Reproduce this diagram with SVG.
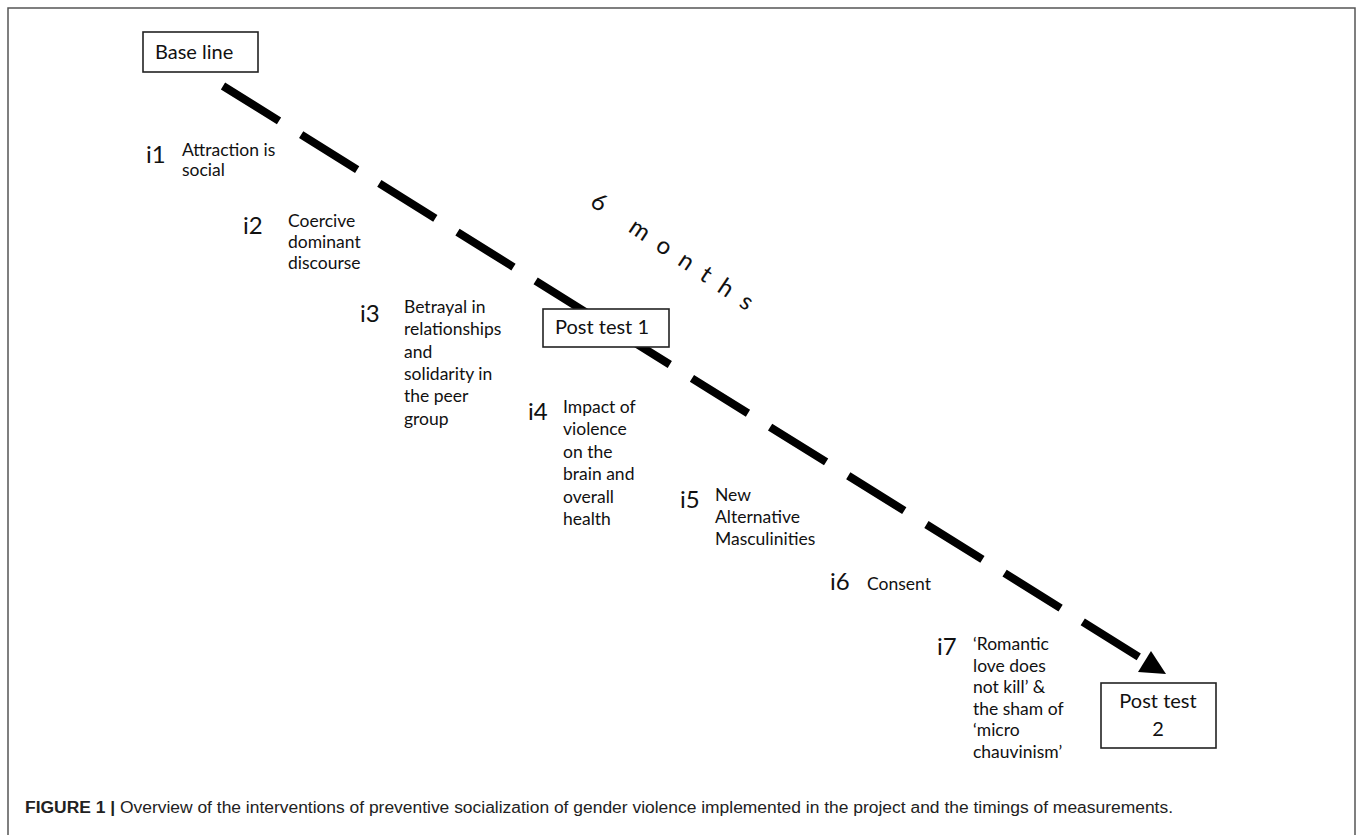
<svg xmlns="http://www.w3.org/2000/svg" width="1357" height="835" viewBox="0 0 1357 835">
<style>
.frame{fill:none;stroke:#555;stroke-width:1.5}
.box{fill:#fff;stroke:#222;stroke-width:1.6}
.bt{font-family:Lato,"Open Sans",sans-serif;font-size:20px;fill:#111}
.num{font-family:Lato,"Open Sans",sans-serif;font-size:24px;fill:#111}
.lab{font-family:Lato,"Open Sans",sans-serif;font-size:17.5px;fill:#111}
.dash{fill:none;stroke:#000;stroke-width:8;stroke-dasharray:66 26.1;stroke-linecap:butt}
.months{font-family:Lato,"Open Sans",sans-serif;font-size:24px;fill:#111;letter-spacing:13px}
.cap{font-family:"Liberation Sans",Arial,sans-serif;font-size:16px;fill:#222}
</style>
<rect width="1357" height="835" fill="#fff"/>
<rect class="frame" x="8" y="8" width="1347" height="900"/>
<g id="connectors">
<path class="dash" d="M223,86 L1139,657"/>
<polygon points="1151,651 1138,672 1166,674" fill="#000"/>
</g>
<g id="node-baseline">
<rect class="box" x="143" y="32" width="115" height="40"/>
<text class="bt" x="155" y="59">Base line</text>
</g>
<g id="node-posttest1">
<rect class="box" x="543" y="309" width="126" height="38"/>
<text class="bt" x="555" y="334">Post test 1</text>
</g>
<g id="node-posttest2">
<rect class="box" x="1101" y="683" width="115" height="65"/>
<text class="bt" x="1158" y="708" text-anchor="middle">Post test</text>
<text class="bt" x="1158" y="736" text-anchor="middle">2</text>
</g>
<g id="months">
<text class="months" transform="translate(589,205) rotate(34)" x="0" y="0">6 months</text>
</g>
<g id="i1">
<text class="num" x="146" y="163">i1</text>
<text class="lab" x="182" y="156">Attraction is</text>
<text class="lab" x="182" y="176">social</text>
</g>
<g id="i2">
<text class="num" x="243" y="234">i2</text>
<text class="lab" x="288" y="227">Coercive</text>
<text class="lab" x="288" y="248">dominant</text>
<text class="lab" x="288" y="269">discourse</text>
</g>
<g id="i3">
<text class="num" x="360" y="322">i3</text>
<text class="lab" x="404" y="313">Betrayal in</text>
<text class="lab" x="404" y="335.3">relationships</text>
<text class="lab" x="404" y="357.6">and</text>
<text class="lab" x="404" y="380">solidarity in</text>
<text class="lab" x="404" y="402.2">the peer</text>
<text class="lab" x="404" y="424.5">group</text>
</g>
<g id="i4">
<text class="num" x="528" y="420">i4</text>
<text class="lab" x="563" y="413">Impact of</text>
<text class="lab" x="563" y="435.4">violence</text>
<text class="lab" x="563" y="457.8">on the</text>
<text class="lab" x="563" y="480.2">brain and</text>
<text class="lab" x="563" y="502.6">overall</text>
<text class="lab" x="563" y="525">health</text>
</g>
<g id="i5">
<text class="num" x="680" y="508">i5</text>
<text class="lab" x="715" y="501">New</text>
<text class="lab" x="715" y="523">Alternative</text>
<text class="lab" x="715" y="545">Masculinities</text>
</g>
<g id="i6">
<text class="num" x="830" y="590">i6</text>
<text class="lab" x="867" y="590">Consent</text>
</g>
<g id="i7">
<text class="num" x="937" y="655">i7</text>
<text class="lab" x="973" y="650">‘Romantic</text>
<text class="lab" x="973" y="671.6">love does</text>
<text class="lab" x="973" y="693.2">not kill’ &amp;</text>
<text class="lab" x="973" y="714.8">the sham of</text>
<text class="lab" x="973" y="736.4">‘micro</text>
<text class="lab" x="973" y="758">chauvinism’</text>
</g>
<g id="caption">
<text class="cap" x="25" y="813" textLength="1148" lengthAdjust="spacingAndGlyphs"><tspan font-weight="bold">FIGURE 1 |</tspan> Overview of the interventions of preventive socialization of gender violence implemented in the project and the timings of measurements.</text>
</g>
</svg>
